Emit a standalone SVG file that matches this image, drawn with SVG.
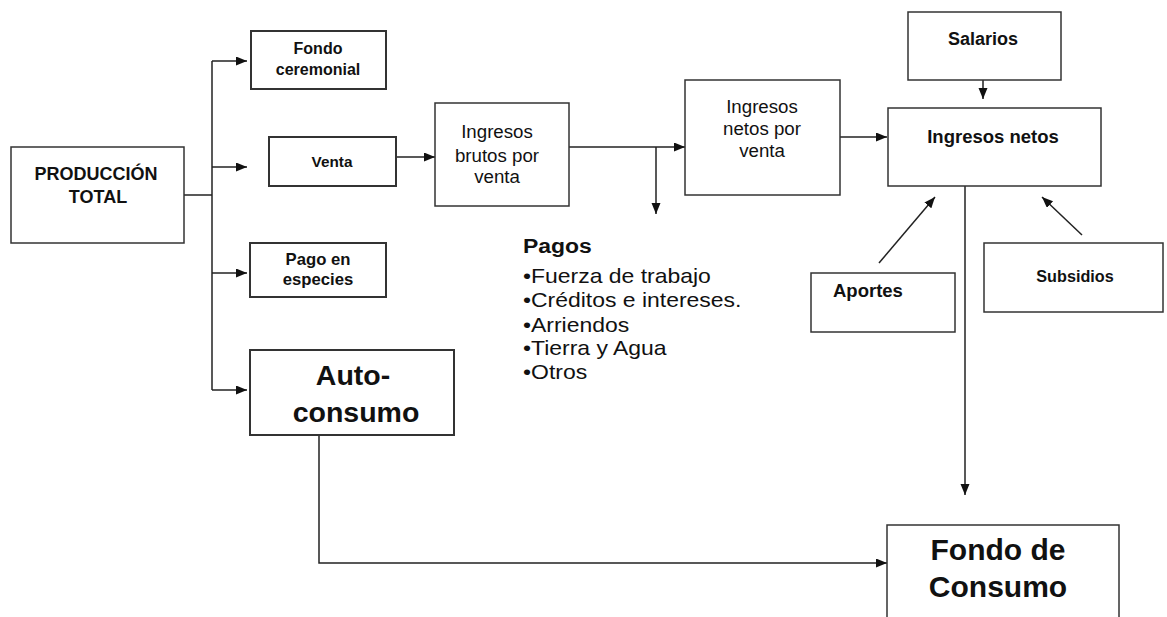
<svg xmlns="http://www.w3.org/2000/svg" width="1167" height="617" viewBox="0 0 1167 617">
  <style>
    .box { fill: #fff; stroke: #333; stroke-width: 1.5; }
    .boxb { fill: #fff; stroke: #333; stroke-width: 2; }
    .t { font-family: "Liberation Sans", Arial, sans-serif; fill: #111; text-anchor: middle; }
    .b { font-weight: bold; }
    .l { font-family: "Liberation Sans", Arial, sans-serif; fill: #111; }
    .c { fill: none; stroke: #222; stroke-width: 1.5; }
  </style>
  <defs>
    <marker id="arr" markerUnits="userSpaceOnUse" markerWidth="12" markerHeight="10" refX="11" refY="4.5" orient="auto">
      <path d="M0,0 L11,4.5 L0,9 z" fill="#111"/>
    </marker>
  </defs>
  <rect width="1167" height="617" fill="#fff"/>

  <g id="connectors">
    <!-- production trunk and branches -->
    <path class="c" d="M184,195 H212"/>
    <path class="c" d="M212,61 V390"/>
    <path class="c" d="M212,61 H247" marker-end="url(#arr)"/>
    <path class="c" d="M212,167 H247" marker-end="url(#arr)"/>
    <path class="c" d="M212,273 H247" marker-end="url(#arr)"/>
    <path class="c" d="M212,390 H247" marker-end="url(#arr)"/>
    <!-- sales chain -->
    <path class="c" d="M396,157 H435" marker-end="url(#arr)"/>
    <path class="c" d="M569,147 H685" marker-end="url(#arr)"/>
    <path class="c" d="M656,147 V214" marker-end="url(#arr)"/>
    <path class="c" d="M840,137 H887" marker-end="url(#arr)"/>
    <!-- inputs to net income -->
    <path class="c" d="M983,80 V99" marker-end="url(#arr)"/>
    <path class="c" d="M879,263 L935,197" marker-end="url(#arr)"/>
    <path class="c" d="M1082,235 L1042,197" marker-end="url(#arr)"/>
    <!-- to consumption fund -->
    <path class="c" d="M965,186 V495" marker-end="url(#arr)"/>
    <path class="c" d="M319,435 V563 H887" marker-end="url(#arr)"/>
  </g>

  <g id="produccion-total">
    <rect class="box" x="11" y="147" width="173" height="96"/>
    <text class="t b" x="96" y="180" font-size="18">PRODUCCIÓN</text>
    <text class="t b" x="98" y="203" font-size="18">TOTAL</text>
  </g>

  <g id="fondo-ceremonial">
    <rect class="boxb" x="251" y="31" width="135" height="58"/>
    <text class="t b" x="318" y="54" font-size="16">Fondo</text>
    <text class="t b" x="318" y="75" font-size="16">ceremonial</text>
  </g>

  <g id="venta">
    <rect class="boxb" x="269" y="137" width="127" height="49"/>
    <text class="t b" x="332" y="167" font-size="15.3">Venta</text>
  </g>

  <g id="pago-especies">
    <rect class="boxb" x="250" y="243" width="136" height="54"/>
    <text class="t b" x="318" y="265" font-size="16.7">Pago en</text>
    <text class="t b" x="318" y="285" font-size="16.7">especies</text>
  </g>

  <g id="autoconsumo">
    <rect class="boxb" x="250" y="350" width="204" height="85"/>
    <text class="t b" x="353" y="385" font-size="28.5">Auto-</text>
    <text class="t b" x="356" y="422" font-size="28.5">consumo</text>
  </g>

  <g id="ingresos-brutos">
    <rect class="box" x="435" y="103" width="134" height="103"/>
    <text class="t" x="497" y="138" font-size="18.7">Ingresos</text>
    <text class="t" x="497" y="162" font-size="18.7">brutos por</text>
    <text class="t" x="497" y="183" font-size="18.7">venta</text>
  </g>

  <g id="ingresos-netos-venta">
    <rect class="box" x="685" y="80" width="155" height="115"/>
    <text class="t" x="762" y="113" font-size="18.7">Ingresos</text>
    <text class="t" x="762" y="135" font-size="18.7">netos por</text>
    <text class="t" x="762" y="157" font-size="18.7">venta</text>
  </g>

  <!-- payments list, set slightly wide -->
  <g id="pagos" transform="translate(523,0) scale(1.12,1) translate(-523,0)">
    <text class="l b" x="523" y="253" font-size="20.5">Pagos</text>
    <text class="l" x="523" y="283" font-size="20.5">•Fuerza de trabajo</text>
    <text class="l" x="523" y="307" font-size="20.5">•Créditos e intereses.</text>
    <text class="l" x="523" y="332" font-size="20.5">•Arriendos</text>
    <text class="l" x="523" y="355" font-size="20.5">•Tierra y Agua</text>
    <text class="l" x="523" y="379" font-size="20.5">•Otros</text>
  </g>

  <g id="salarios">
    <rect class="box" x="908" y="12" width="153" height="68"/>
    <text class="t b" x="983" y="45" font-size="18">Salarios</text>
  </g>

  <g id="ingresos-netos">
    <rect class="box" x="888" y="108" width="213" height="78"/>
    <text class="t b" x="993" y="143" font-size="18.5">Ingresos netos</text>
  </g>

  <g id="aportes">
    <rect class="box" x="811" y="273" width="144" height="59"/>
    <text class="l b" x="833" y="297" font-size="18.5">Aportes</text>
  </g>

  <g id="subsidios">
    <rect class="box" x="984" y="243" width="179" height="69"/>
    <text class="t b" x="1075" y="282" font-size="16.2">Subsidios</text>
  </g>

  <g id="fondo-consumo">
    <rect class="box" x="887" y="525" width="232" height="110"/>
    <text class="t b" x="998" y="560" font-size="30">Fondo de</text>
    <text class="t b" x="998" y="597" font-size="30">Consumo</text>
  </g>
</svg>
